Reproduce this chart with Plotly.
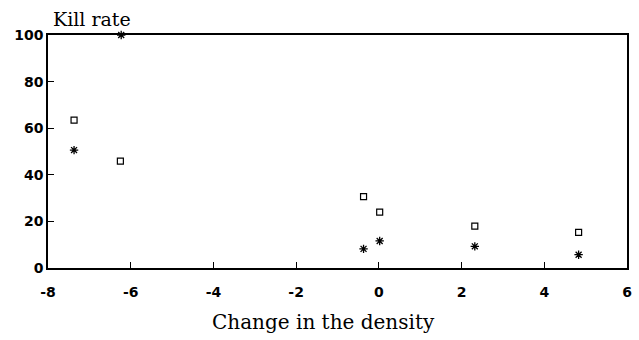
import plotly.graph_objects as go

sq_x = [-7.37, -6.25, -0.37, 0.02, 2.32, 4.83]
sq_y = [63.5, 45.9, 30.6, 24.0, 18.0, 15.3]
st_x = [-7.37, -6.23, -0.37, 0.02, 2.32, 4.83]
st_y = [50.6, 100.0, 8.2, 11.6, 9.3, 5.7]
x_ticks = [-8, -6, -4, -2, 0, 2, 4, 6]
y_ticks = [0, 20, 40, 60, 80, 100]

fig = go.Figure()
fig.add_trace(go.Scatter(x=sq_x, y=sq_y, mode="markers",
                         marker=dict(symbol="square-open", size=6, color="black", line=dict(width=1.2)),
                         cliponaxis=False, showlegend=False))
fig.add_trace(go.Scatter(x=st_x, y=st_y, mode="markers",
                         marker=dict(symbol="asterisk-open", size=7, color="black", line=dict(width=1.3, color="black")),
                         cliponaxis=False, showlegend=False))

tickfont = dict(family="DejaVu Sans", size=14, color="black", weight="bold")
fig.update_xaxes(range=[-8, 6], tickvals=x_ticks, ticktext=[str(v) for v in x_ticks],
                 ticks="inside", ticklen=6, tickcolor="black", tickwidth=1,
                 showline=True, linecolor="black", linewidth=1.5, mirror=True,
                 showgrid=False, zeroline=False, tickfont=tickfont, ticklabelstandoff=10)
fig.update_yaxes(range=[0, 100], tickvals=y_ticks, ticktext=[str(v) for v in y_ticks],
                 ticks="inside", ticklen=6, tickcolor="black", tickwidth=1,
                 showline=True, linecolor="black", linewidth=1.5, mirror=True,
                 showgrid=False, zeroline=False, tickfont=tickfont)

fig.add_annotation(text="Kill rate", xref="paper", yref="paper", x=0.0, y=1.0,
                   xanchor="left", yanchor="bottom", xshift=3, yshift=3, showarrow=False,
                   font=dict(family="DejaVu Serif", size=19, color="black"))
fig.add_annotation(text="Change in the density", xref="paper", yref="paper", x=0.475, y=0,
                   xanchor="center", yanchor="top", yshift=-40, showarrow=False,
                   font=dict(family="DejaVu Serif", size=20, color="black"))

fig.update_layout(width=639, height=340, margin=dict(l=48, r=7, t=35, b=72),
                  plot_bgcolor="white", paper_bgcolor="white", font=dict(family="DejaVu Sans", color="black"))
fig.write_html("out.html")
